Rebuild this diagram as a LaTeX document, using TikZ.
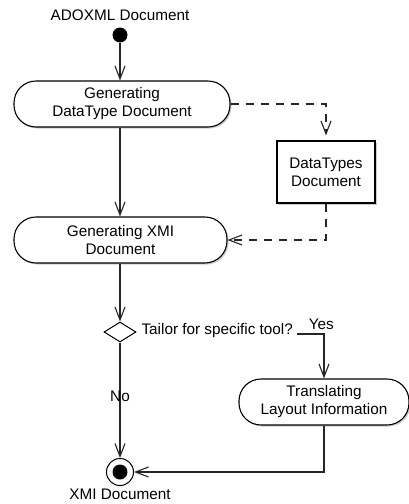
\documentclass[tikz,border=0pt]{standalone}
\usepackage{fontspec}
\setmainfont{Liberation Sans}
\usetikzlibrary{arrows.meta,shapes.geometric,shadows,calc}

\begin{document}
\begin{tikzpicture}[x=1pt,y=-1pt,
  font=\fontsize{15.3}{18}\selectfont,
  line width=1.1pt,
  flow/.style={draw=black!85,-{Straight Barb[length=13pt,width=10pt,line width=1.1pt]}},
  dep/.style={flow,dash pattern=on 8pt off 7pt},
  shade/.style={drop shadow={shadow xshift=1.5pt,shadow yshift=-1.5pt,fill=black,opacity=0.2}},
  action/.style={draw=black,fill=white,rounded corners=22pt,minimum height=46pt,
    align=center,inner sep=0pt,shade},
  objnode/.style={draw=black,fill=white,minimum width=98pt,minimum height=62pt,
    align=center,inner sep=0pt,shade},
  decision/.style={draw=black,fill=white,diamond,minimum width=32pt,minimum height=20pt,
    inner sep=0pt,line width=1pt},
  lbl/.style={inner sep=0pt}
]
\useasboundingbox (0,0) rectangle (409,504);

% initial node and its label
\node[lbl] (inlabel) at (120,15) {ADOXML Document};
\node[circle,fill=black,minimum size=15pt,inner sep=0pt] (start) at (120,35) {};

% actions
\node[action,minimum width=216pt] (gen1) at (122,104) {Generating\\DataType Document};
\node[objnode] (dtdoc) at (326,172) {DataTypes\\Document};
\node[action,minimum width=213pt] (gen2) at (120.5,240) {Generating XMI\\Document};

% decision
\node[decision] (dec) at (120,332) {};
\node[lbl,anchor=west] (question) at (141,331) {Tailor for specific tool?};
\coordinate (qout) at (297,334);
\node[action,minimum width=170pt] (trans) at (324,402) {Translating\\Layout Information};

% final node
\node[circle,draw=black,fill=white,minimum size=27pt,inner sep=0pt,line width=1pt] (end) at (120,472) {};
\node[circle,fill=black,minimum size=15pt,inner sep=0pt] at (end) {};
\node[lbl] (outlabel) at (120,494) {XMI Document};

% control flows
\draw[flow] (start) -- (start |- gen1.north);
\draw[flow] (start |- gen1.south) -- (start |- gen2.north);
\draw[flow] (start |- gen2.south) -- (dec.north);
\draw[flow] (dec.south) -- node[lbl,fill=none,pos=0.47] (no) {No} (end.north);
\draw[flow] (qout) -| node[lbl,pos=0.45,above=4pt] (yes) {Yes} (trans.north);
\draw[flow] (trans.south) |- (end.east);

% object flows
\draw[dep,shorten >=5pt] (gen1.east) -| (dtdoc.north);
\draw[dep] (dtdoc.south) |- (gen2.east);
\end{tikzpicture}
\end{document}
